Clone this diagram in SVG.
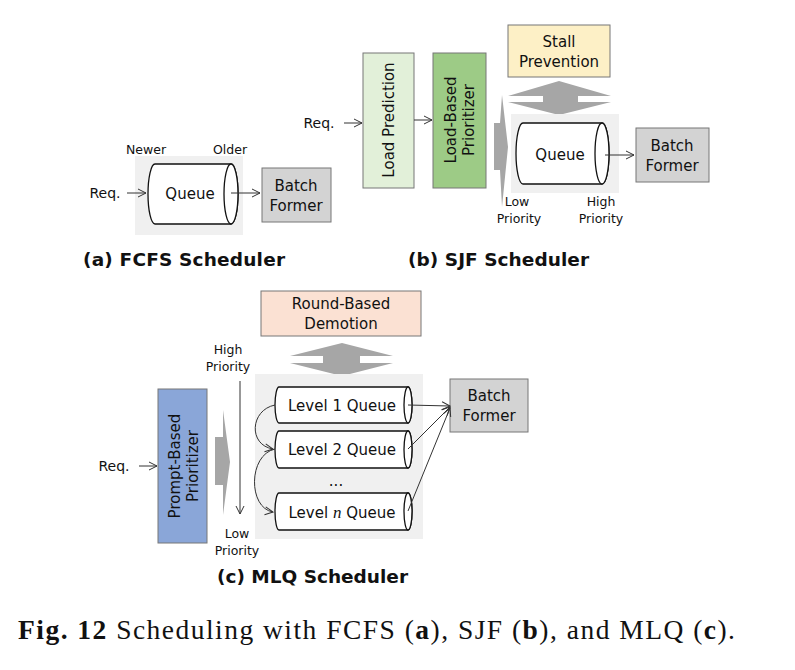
<svg xmlns="http://www.w3.org/2000/svg" width="795" height="670" viewBox="0 0 795 670">
<defs>
<marker id="ah" markerWidth="10" markerHeight="10" refX="9" refY="5" orient="auto" markerUnits="userSpaceOnUse"><path d="M1,1 L9,5 L1,9" fill="none" stroke="#333" stroke-width="1"/></marker>
</defs>
<style>
text{font-family:"DejaVu Sans",sans-serif;fill:#111}
.t{font-size:15px;text-anchor:middle}
.s{font-size:12.5px;text-anchor:middle}
.cap{font-size:18.5px;font-weight:bold}
.box{stroke:#777;stroke-width:1}
.bg{fill:#f0f0f0}
.cyl{fill:#fff;stroke:#111;stroke-width:1.3}
.ln{stroke:#333;stroke-width:1;fill:none}
.big{fill:#a6a6a6}
</style>
<rect width="795" height="670" fill="#fff"/>
<!-- (a) -->
<g id="a-labels"><text class="s" x="146" y="154">Newer</text><text class="s" x="230" y="154">Older</text><text class="t" x="105" y="198" style="font-size:14px">Req.</text></g>
<rect class="bg" x="135" y="156" width="108" height="79"/>
<g id="a-queue"><path class="cyl" d="M155,164 H231 A7,30 0 0 1 231,224 H155 A7,30 0 0 1 155,164 Z"/><ellipse class="cyl" cx="231" cy="194" rx="7" ry="30"/><text class="t" x="190" y="199">Queue</text></g>
<g id="a-batch"><rect class="box" x="262" y="168" width="69" height="54" fill="#d3d3d3"/><text class="t" x="296" y="191">Batch</text><text class="t" x="296" y="211">Former</text></g>
<text class="cap" x="83" y="266" textLength="202">(a) FCFS Scheduler</text>
<!-- (b) -->
<g id="b-stall"><rect class="box" x="508" y="25" width="102" height="52" fill="#fdf0c6"/><text class="t" x="559" y="47">Stall</text><text class="t" x="559" y="67">Prevention</text></g>
<g id="b-loadpred"><rect class="box" x="363" y="53" width="51" height="135" fill="#e2f0d9"/><text class="t" transform="translate(394,120) rotate(-90)">Load Prediction</text></g>
<g id="b-prior"><rect class="box" x="433" y="53" width="53" height="135" fill="#9dcb86"/><text class="t" transform="translate(456,120) rotate(-90)">Load-Based</text><text class="t" transform="translate(474,120) rotate(-90)">Prioritizer</text></g>
<text class="t" x="319" y="128" style="font-size:14px">Req.</text>
<polygon class="big" points="502,95 508,147 502,207 500,170 494,170 494,123 500,123"/>
<polygon class="big" points="559,81 611,96 578,96 578,102 611,102 559,115 508,102 543,102 543,96 508,96"/>
<rect class="bg" x="511" y="114" width="108" height="79"/>
<g id="b-queue"><path class="cyl" d="M523,123 H602 A7,30.5 0 0 1 602,184 H523 A7,30.5 0 0 1 523,123 Z"/><ellipse class="cyl" cx="602" cy="153.5" rx="7" ry="30.5"/><text class="t" x="560" y="160">Queue</text></g>
<g id="b-batch"><rect class="box" x="636" y="128" width="73" height="54" fill="#d3d3d3"/><text class="t" x="672" y="151">Batch</text><text class="t" x="672" y="171">Former</text></g>
<g id="b-labels"><text class="s" x="517" y="206">Low</text><text class="s" x="519" y="223">Priority</text><text class="s" x="601" y="206">High</text><text class="s" x="601" y="223">Priority</text></g>
<text class="cap" x="408" y="266" textLength="181">(b) SJF Scheduler</text>
<!-- (c) -->
<g id="c-demotion"><rect class="box" x="261" y="291" width="160" height="45" fill="#fbe1d3"/><text class="t" x="341" y="309">Round-Based</text><text class="t" x="341" y="329">Demotion</text></g>
<polygon class="big" points="342,343 393,356 360,356 360,363 393,363 342,376 290,363 323,363 323,356 290,356"/>
<g id="c-labels"><text class="s" x="228" y="354">High</text><text class="s" x="228" y="371">Priority</text><text class="s" x="237" y="538">Low</text><text class="s" x="237" y="555">Priority</text><text class="t" x="114" y="471" style="font-size:14px">Req.</text></g>
<g id="c-prior"><rect class="box" x="158" y="389" width="49" height="154" fill="#8aa6d8"/><text class="t" transform="translate(180,466) rotate(-90)">Prompt-Based</text><text class="t" transform="translate(198,466) rotate(-90)">Prioritizer</text></g>
<polygon class="big" points="223,410 230,462 223,515 223,485 215,485 215,437 223,437"/>
<rect class="bg" x="255" y="374" width="168" height="165"/>
<g id="c-l1"><path class="cyl" d="M279,387 H408 A4,18 0 0 1 408,423 H279 A4,18 0 0 1 279,387 Z"/><ellipse class="cyl" cx="408" cy="405" rx="4" ry="18"/><text class="t" x="342" y="411">Level 1 Queue</text></g>
<g id="c-l2"><path class="cyl" d="M279,431 H408 A4,18.5 0 0 1 408,468 H279 A4,18.5 0 0 1 279,431 Z"/><ellipse class="cyl" cx="408" cy="449.5" rx="4" ry="18.5"/><text class="t" x="342" y="455">Level 2 Queue</text></g>
<text class="t" x="336" y="486">...</text>
<g id="c-ln"><path class="cyl" d="M279,493 H408 A4,18.5 0 0 1 408,530 H279 A4,18.5 0 0 1 279,493 Z"/><ellipse class="cyl" cx="408" cy="511.5" rx="4" ry="18.5"/><text class="t" x="342" y="518">Level <tspan font-family="Liberation Serif" font-style="italic" font-size="17">n</tspan> Queue</text></g>
<g id="c-batch"><rect class="box" x="450" y="379" width="78" height="53" fill="#d3d3d3"/><text class="t" x="489" y="401">Batch</text><text class="t" x="489" y="421">Former</text></g>
<text class="cap" x="217" y="583" textLength="191">(c) MLQ Scheduler</text>
<g id="connectors">
<line class="ln" x1="127" y1="193" x2="146" y2="193" marker-end="url(#ah)"/>
<line class="ln" x1="231" y1="193" x2="260" y2="193" marker-end="url(#ah)"/>
<line class="ln" x1="344" y1="123" x2="362" y2="123" marker-end="url(#ah)"/>
<line class="ln" x1="414" y1="120" x2="432" y2="120" marker-end="url(#ah)"/>
<line class="ln" x1="605" y1="155" x2="634" y2="155" marker-end="url(#ah)"/>
<line class="ln" x1="240" y1="381" x2="240" y2="514" marker-end="url(#ah)"/>
<line class="ln" x1="139" y1="466" x2="157" y2="466" marker-end="url(#ah)"/>
<path class="ln" d="M275,405 C250,410 248,445 273,449" marker-end="url(#ah)"/>
<path class="ln" d="M275,449 C248,455 248,508 273,512" marker-end="url(#ah)"/>
<line class="ln" x1="408" y1="405" x2="450" y2="406" marker-end="url(#ah)"/>
<line class="ln" x1="408" y1="449" x2="450" y2="407" marker-end="url(#ah)"/>
<line class="ln" x1="408" y1="511" x2="450" y2="408" marker-end="url(#ah)"/>
</g>
<text x="18" y="639" textLength="717" style="font-family:'Liberation Serif',serif;font-size:27.5px"><tspan font-weight="bold">Fig. 12</tspan>  Scheduling with FCFS (<tspan font-weight="bold">a</tspan>), SJF (<tspan font-weight="bold">b</tspan>), and MLQ (<tspan font-weight="bold">c</tspan>).</text>
</svg>
